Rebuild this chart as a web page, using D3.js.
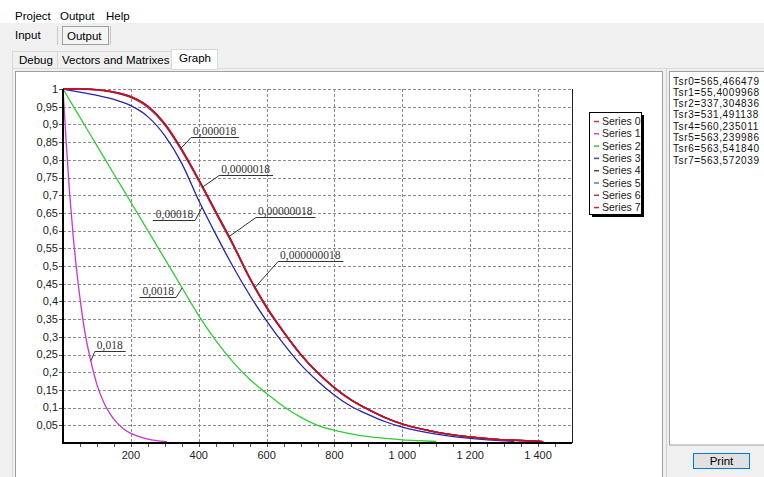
<!DOCTYPE html>
<html>
<head>
<meta charset="utf-8">
<script src="https://cdn.jsdelivr.net/npm/d3@7"></script>
<style>
body { margin: 0; background: #f0f0f0; overflow: hidden; }
svg { display: block; }
.ui { font-family: "Liberation Sans", Arial, sans-serif; font-size: 11.5px; fill: #000; }
.tick-label { font-family: "Liberation Sans", Arial, sans-serif; font-size: 11px; fill: #222; }
.legend-label { font-family: "Liberation Sans", Arial, sans-serif; font-size: 10.5px; fill: #222; }
.tsr-line { font-family: "Liberation Sans", Arial, sans-serif; font-size: 10px; fill: #111; letter-spacing: 0.6px; }
.callout { font-family: "Liberation Serif", "Times New Roman", serif; font-size: 11.5px; fill: #333; }
</style>
</head>
<body>
<div id="chart"></div>
<script>
// series names and the Tsr lines from the text box
var seriesNames = ["Series 0", "Series 1", "Series 2", "Series 3", "Series 4", "Series 5", "Series 6", "Series 7"];
var tsrLines = ["Tsr0=565,466479", "Tsr1=55,4009968", "Tsr2=337,304836", "Tsr3=531,491138",
                "Tsr4=560,235011", "Tsr5=563,239986", "Tsr6=563,541840", "Tsr7=563,572039"];

// series 1 (0,018)
var tS1 = [0, 10, 20, 30, 40, 50, 60, 70, 80, 90, 100, 120, 140, 160, 180, 200, 225, 250, 275, 306];
var vS1 = [1, 0.84, 0.70, 0.585, 0.49, 0.41, 0.34, 0.285, 0.24, 0.20, 0.165, 0.115, 0.08, 0.056, 0.039, 0.027, 0.018, 0.011, 0.007, 0.004];

// series 2 (0,0018)
var tS2 = [0, 50, 100, 150, 200, 250, 300, 350, 400, 450, 500, 550, 600, 650, 700, 750, 800, 850, 900, 950, 1000, 1050, 1100];
var vS2 = [1, 0.92, 0.84, 0.76, 0.68, 0.60, 0.52, 0.44, 0.36, 0.29, 0.23, 0.18, 0.14, 0.103, 0.073, 0.05, 0.036, 0.026, 0.018, 0.013, 0.009, 0.0065, 0.0045];

// series 3 (0,00018)
var tS3 = [0, 50, 100, 150, 200, 250, 300, 350, 400, 450, 500, 550, 600, 650, 700, 750, 800, 850, 900, 950, 1000, 1100, 1200, 1300, 1330];
var vS3 = [1, 0.991, 0.982, 0.971, 0.953, 0.922, 0.868, 0.79, 0.685, 0.59, 0.50, 0.418, 0.345, 0.28, 0.222, 0.175, 0.135, 0.103, 0.08, 0.06, 0.045, 0.025, 0.013, 0.006, 0.005];

// the red band: series 0, 4, 5, 6, 7
var tRed = [0, 50, 100, 150, 200, 250, 300, 350, 400, 450, 500, 550, 600, 650, 700, 750, 800, 850, 900, 950, 1000, 1100, 1200, 1300, 1400, 1415];
var vS0 = [1, 1, 0.998, 0.992, 0.979, 0.952, 0.903, 0.830, 0.745, 0.655, 0.565, 0.468, 0.385, 0.315, 0.252, 0.200, 0.157, 0.122, 0.095, 0.072, 0.054, 0.031, 0.017, 0.009, 0.005, 0.004];
var vS4 = [1, 1, 0.997, 0.990, 0.976, 0.948, 0.898, 0.825, 0.740, 0.650, 0.560, 0.464, 0.381, 0.312, 0.249, 0.198, 0.155, 0.120, 0.094, 0.071, 0.053, 0.030, 0.017, 0.009, 0.005, 0.004];
var vS5 = [1, 1, 0.998, 0.991, 0.978, 0.950, 0.901, 0.828, 0.743, 0.653, 0.563, 0.466, 0.383, 0.314, 0.251, 0.199, 0.156, 0.121, 0.094, 0.071, 0.053, 0.031, 0.017, 0.009, 0.005, 0.004];
var vS6 = [1, 1, 0.998, 0.991, 0.978, 0.951, 0.901, 0.828, 0.743, 0.653, 0.563, 0.466, 0.383, 0.314, 0.251, 0.199, 0.156, 0.121, 0.094, 0.071, 0.053, 0.031, 0.017, 0.009, 0.005, 0.004];
var vS7 = [1, 1, 0.998, 0.991, 0.978, 0.951, 0.902, 0.829, 0.744, 0.654, 0.564, 0.467, 0.384, 0.314, 0.251, 0.199, 0.156, 0.121, 0.095, 0.072, 0.054, 0.031, 0.017, 0.009, 0.005, 0.004];

// callout labels, which series they sit on and at which x value
var calloutText = ["0,000018", "0,0000018", "0,00018", "0,00000018", "0,000000018", "0,0018", "0,018"];
var calloutSeries = [0, 4, 3, 5, 6, 2, 1];
var calloutAt = [348, 410, 410, 489, 566, 351, 82];

var xTicks = [200, 400, 600, 800, 1000, 1200, 1400];

// ------------------------------------------------------------------

var seriesT = [tRed, tS1, tS2, tS3, tRed, tRed, tRed, tRed];
var seriesV = [vS0, vS1, vS2, vS3, vS4, vS5, vS6, vS7];

var lineColors = ["#d0182c", "#cc33cc", "#33cc33", "#2424b0", "#8a1f45", "#3a8f8f", "#a82a34", "#c00f2a"];
var legendColors = ["#e03030", "#e040e0", "#40c040", "#4444aa", "#803050", "#409090", "#a04040", "#e02020"];

// offsets of the label's underline from the point on the curve (px)
var calloutLayout = [
    { dx: 10, dy: -11, side: "right" },
    { dx: 17, dy: -12, side: "right" },
    { dx: -7, dy: 13, side: "left" },
    { dx: 27, dy: -20, side: "right" },
    { dx: 23, dy: -26, side: "right" },
    { dx: -6, dy: 9, side: "left" },
    { dx: 4, dy: -10, side: "right" }
];

var width = 764;
var height = 477;

var plot = { left: 63, right: 572, top: 89, bottom: 443 };

var svg = d3.select("#chart")
    .append("svg")
    .attr("width", width)
    .attr("height", height);

// window chrome -----------------------------------------------------
svg.append("rect").attr("x", 0).attr("y", 0).attr("width", width).attr("height", height).attr("fill", "#f0f0f0");
svg.append("rect").attr("x", 0).attr("y", 0).attr("width", width).attr("height", 23).attr("fill", "#ffffff");

var menu = [["Project", 15], ["Output", 60], ["Help", 106]];
svg.selectAll(".menu")
    .data(menu)
    .enter()
    .append("text")
    .attr("class", "ui")
    .attr("x", function(d) { return d[1]; })
    .attr("y", 20)
    .text(function(d) { return d[0]; });

svg.append("text").attr("class", "ui").attr("x", 15).attr("y", 39).text("Input");
svg.append("line").attr("x1", 57.5).attr("x2", 57.5).attr("y1", 26).attr("y2", 45).attr("stroke", "#c8c8c8");
svg.append("line").attr("x1", 110.5).attr("x2", 110.5).attr("y1", 26).attr("y2", 45).attr("stroke", "#c8c8c8");
svg.append("rect").attr("x", 62.5).attr("y", 26.5).attr("width", 46).attr("height", 18)
    .attr("fill", "#f4f4f4").attr("stroke", "#a0a0a0");
svg.append("text").attr("class", "ui").attr("x", 67).attr("y", 40).text("Output");

// tabs
svg.append("line").attr("x1", 12).attr("x2", width).attr("y1", 68.5).attr("y2", 68.5).attr("stroke", "#d9d9d9");
svg.append("line").attr("x1", 12.5).attr("x2", 12.5).attr("y1", 68).attr("y2", height).attr("stroke", "#d9d9d9");
var tabs = [["Debug", 12.5, 45, 19], ["Vectors and Matrixes", 57.5, 114, 62]];
tabs.forEach(function(t) {
    svg.append("rect").attr("x", t[1]).attr("y", 51.5).attr("width", t[2]).attr("height", 17)
        .attr("fill", "#f0f0f0").attr("stroke", "#d9d9d9");
    svg.append("text").attr("class", "ui").attr("x", t[3]).attr("y", 64).text(t[0]);
});
svg.append("rect").attr("x", 171.5).attr("y", 49.5).attr("width", 46).attr("height", 20)
    .attr("fill", "#ffffff").attr("stroke", "#d9d9d9");
svg.append("line").attr("x1", 172).attr("x2", 217).attr("y1", 68.5).attr("y2", 68.5).attr("stroke", "#ffffff");
svg.append("text").attr("class", "ui").attr("x", 179).attr("y", 62).text("Graph");

// chart panel
svg.append("rect").attr("x", 15.5).attr("y", 71.5).attr("width", 647).attr("height", 420)
    .attr("fill", "#ffffff").attr("stroke", "#a0a0a0");

// right side: splitter, text box, button
svg.append("line").attr("x1", 666.5).attr("x2", 666.5).attr("y1", 69).attr("y2", height).attr("stroke", "#d0d0d0");
svg.append("rect").attr("x", 669.5).attr("y", 71.5).attr("width", 110).attr("height", 373.5)
    .attr("fill", "#ffffff").attr("stroke", "#a0a0a0");
svg.selectAll(".tsr")
    .data(tsrLines)
    .enter()
    .append("text")
    .attr("class", "tsr-line")
    .attr("x", 673)
    .attr("y", function(d, i) { return 84.5 + i * 11.3; })
    .text(function(d) { return d; });

svg.append("rect").attr("x", 693.5).attr("y", 453.5).attr("width", 56).attr("height", 15)
    .attr("fill", "#e1e1e1").attr("stroke", "#0078d7");
svg.append("text").attr("class", "ui").attr("x", 721.5).attr("y", 465)
    .attr("text-anchor", "middle").text("Print");

// the graph ---------------------------------------------------------
var x = d3.scaleLinear().domain([0, 1500]).range([plot.left, plot.right]);
var y = d3.scaleLinear().domain([0, 1]).range([plot.bottom, plot.top]);

var locale = d3.formatLocale({ decimal: ",", thousands: "\u00a0", grouping: [3], currency: ["", ""] });
var yFormat = locale.format(".2~f");
var xFormat = locale.format(",d");

var yTicks = d3.range(1, 21).map(function(i) { return i / 20; });
var xMinor = d3.range(1, 30).map(function(i) { return i * 50; });

var g = svg.append("g");

// grid
g.selectAll(".hgrid")
    .data(yTicks)
    .enter()
    .append("line")
    .attr("x1", plot.left)
    .attr("x2", plot.right)
    .attr("y1", function(d) { return Math.round(y(d)) + 0.5; })
    .attr("y2", function(d) { return Math.round(y(d)) + 0.5; })
    .attr("stroke", "#8c8c8c")
    .attr("stroke-dasharray", "3,2");

g.selectAll(".vgrid")
    .data(xTicks)
    .enter()
    .append("line")
    .attr("x1", function(d) { return Math.round(x(d)) + 0.5; })
    .attr("x2", function(d) { return Math.round(x(d)) + 0.5; })
    .attr("y1", plot.top)
    .attr("y2", plot.bottom)
    .attr("stroke", "#8c8c8c")
    .attr("stroke-dasharray", "3,2");

// curves
var line = d3.line()
    .x(function(d) { return x(d[0]); })
    .y(function(d) { return y(d[1]); })
    .curve(d3.curveMonotoneX);

var order = [1, 2, 3, 4, 5, 6, 0, 7];
order.forEach(function(i) {
    var pts = seriesT[i].map(function(t, k) { return [t, seriesV[i][k]]; });
    g.append("path")
        .attr("d", line(pts))
        .attr("fill", "none")
        .attr("stroke", lineColors[i])
        .attr("stroke-width", 1.3);
});

// axes
g.append("line").attr("x1", plot.left).attr("x2", plot.left).attr("y1", plot.top).attr("y2", plot.bottom + 1)
    .attr("stroke", "#000").attr("stroke-width", 2);
g.append("line").attr("x1", plot.left - 1).attr("x2", plot.right).attr("y1", plot.bottom).attr("y2", plot.bottom)
    .attr("stroke", "#000").attr("stroke-width", 2);
g.append("line").attr("x1", plot.right + 0.5).attr("x2", plot.right + 0.5).attr("y1", plot.top).attr("y2", plot.bottom)
    .attr("stroke", "#222");

g.selectAll(".ytick")
    .data(yTicks)
    .enter()
    .append("line")
    .attr("x1", plot.left - 4)
    .attr("x2", plot.left - 1)
    .attr("y1", function(d) { return Math.round(y(d)) + 0.5; })
    .attr("y2", function(d) { return Math.round(y(d)) + 0.5; })
    .attr("stroke", "#555");

g.selectAll(".ylabel")
    .data(yTicks)
    .enter()
    .append("text")
    .attr("class", "tick-label")
    .attr("x", plot.left - 5)
    .attr("y", function(d) { return y(d); })
    .attr("dy", "0.35em")
    .attr("text-anchor", "end")
    .text(function(d) { return yFormat(d); });

g.selectAll(".xtick")
    .data(xMinor)
    .enter()
    .append("line")
    .attr("x1", function(d) { return Math.round(x(d)) + 0.5; })
    .attr("x2", function(d) { return Math.round(x(d)) + 0.5; })
    .attr("y1", plot.bottom + 1)
    .attr("y2", plot.bottom + 4)
    .attr("stroke", "#555");

g.selectAll(".xlabel")
    .data(xTicks)
    .enter()
    .append("text")
    .attr("class", "tick-label")
    .attr("x", function(d) { return x(d); })
    .attr("y", 459)
    .attr("text-anchor", "middle")
    .text(function(d) { return xFormat(d); });

// callouts
calloutText.forEach(function(txt, i) {
    var s = calloutSeries[i];
    var at = d3.scaleLinear().domain(seriesT[s]).range(seriesV[s]);
    var px = x(calloutAt[i]);
    var py = y(at(calloutAt[i]));
    var lay = calloutLayout[i];
    var jx = px + lay.dx;
    var jy = Math.round(py + lay.dy) + 0.5;

    var label = g.append("text").attr("class", "callout").text(txt);
    var w = label.node().getComputedTextLength();
    var x0, x1;
    if (lay.side == "right") {
        x0 = jx; x1 = jx + w + 5;
        label.attr("x", jx + 2);
    } else {
        x0 = jx - w - 5; x1 = jx;
        label.attr("x", jx - w - 2);
    }
    label.attr("y", jy - 3);

    g.append("line").attr("x1", px).attr("y1", py).attr("x2", jx).attr("y2", jy)
        .attr("stroke", "#333");
    g.append("line").attr("x1", x0).attr("x2", x1).attr("y1", jy).attr("y2", jy)
        .attr("stroke", "#333");
});

// legend
var legend = { x: 589, y: 112, w: 52, h: 102, step: 12.3 };
svg.append("rect").attr("x", legend.x + 3).attr("y", legend.y + 3).attr("width", legend.w).attr("height", legend.h)
    .attr("fill", "#000");
svg.append("rect").attr("x", legend.x + 0.5).attr("y", legend.y + 0.5).attr("width", legend.w).attr("height", legend.h)
    .attr("fill", "#fff").attr("stroke", "#000");

var entry = svg.selectAll(".entry")
    .data(seriesNames)
    .enter()
    .append("g")
    .attr("transform", function(d, i) { return "translate(" + legend.x + "," + (legend.y + 9 + i * legend.step) + ")"; });

entry.append("line")
    .attr("x1", 5).attr("x2", 10).attr("y1", 0.5).attr("y2", 0.5)
    .attr("stroke", function(d, i) { return legendColors[i]; })
    .attr("stroke-width", 1.5);

entry.append("text")
    .attr("class", "legend-label")
    .attr("x", 13)
    .attr("y", 4)
    .text(function(d) { return d; });
</script>
</body>
</html>
